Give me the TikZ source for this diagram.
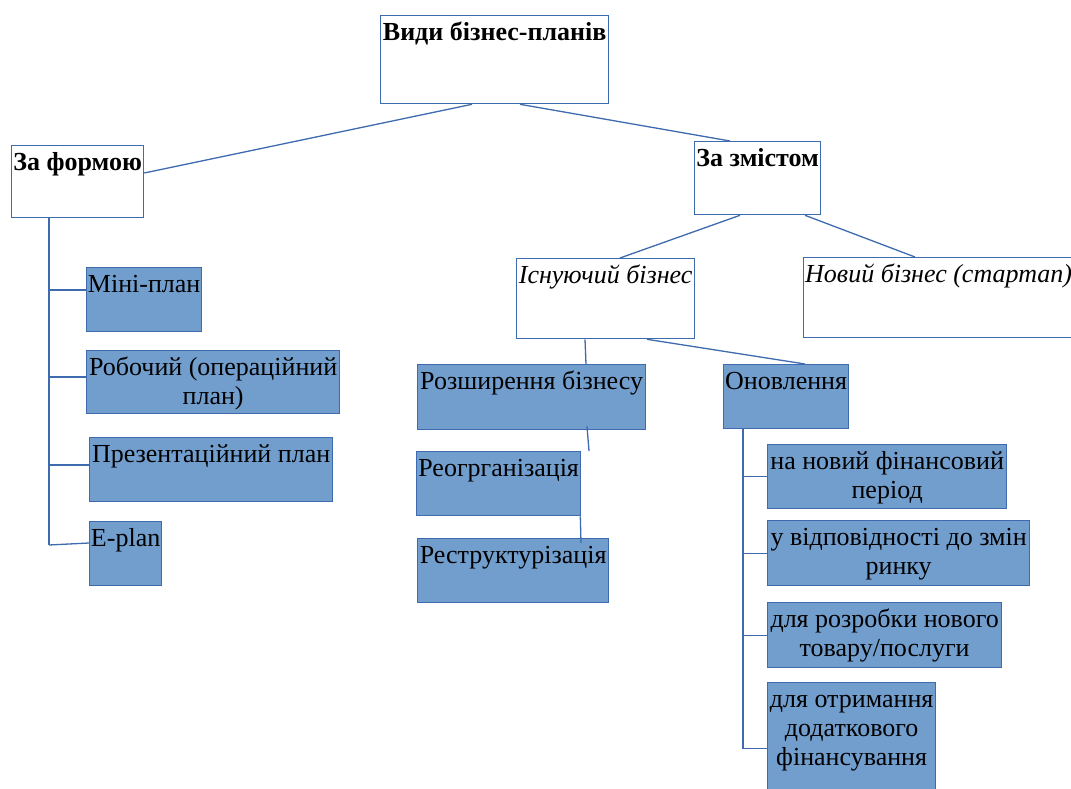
\documentclass[tikz,border=0pt]{standalone}
\usepackage{fontspec}
\setmainfont{Liberation Serif}
\usetikzlibrary{calc}
\definecolor{fillc}{RGB}{114,158,206}
\definecolor{bordc}{RGB}{62,106,174}
\newcommand\bxfont{\fontsize{26}{29}\selectfont}
\tikzset{
  box/.style={draw=bordc,line width=1.3pt,anchor=north west,inner sep=0pt,fill=white},
  fbox/.style={box,fill=fillc},
  txt/.style={anchor=north,inner sep=0pt,font=\bxfont,align=center},
  conn/.style={draw=bordc,line width=1.3pt}
}
\begin{document}
\begin{tikzpicture}[x=1pt,y=-1pt]
\useasboundingbox (0,0) rectangle (1071,789);
\clip (0,0) rectangle (1071,789);
% boxes
\node[box,minimum width=228,minimum height=88] (vydy) at (380,15) {};
\node[box,minimum width=132,minimum height=72] (forma) at (11,145) {};
\node[box,minimum width=126,minimum height=73] (zmist) at (694,141) {};
\node[box,minimum width=178,minimum height=80] (isnu) at (516,258) {};
\node[box,minimum width=275,minimum height=80] (novyi) at (803,257) {};
\node[fbox,minimum width=115,minimum height=64] (mini) at (86,267) {};
\node[fbox,minimum width=253,minimum height=63] (robo) at (86,350) {};
\node[fbox,minimum width=243,minimum height=64] (prez) at (89,437) {};
\node[fbox,minimum width=72,minimum height=64] (eplan) at (89,521) {};
\node[fbox,minimum width=228,minimum height=65] (rozsh) at (417,364) {};
\node[fbox,minimum width=164,minimum height=64] (reorg) at (416,451) {};
\node[fbox,minimum width=191,minimum height=64] (restr) at (417,538) {};
\node[fbox,minimum width=125,minimum height=64] (onovl) at (723,364) {};
\node[fbox,minimum width=239,minimum height=64] (period) at (767,444) {};
\node[fbox,minimum width=262,minimum height=65] (rynok) at (767,520) {};
\node[fbox,minimum width=234,minimum height=65] (tovar) at (767,602) {};
\node[fbox,minimum width=168,minimum height=132] (finans) at (767,682) {};
% texts
\node[txt] (vydyt) at ($(vydy.north)+(0,5)$) {\strut\textbf{Види бізнес-планів}};
\node[txt] (format) at ($(forma.north)+(0,5)$) {\strut\textbf{За формою}};
\node[txt] (zmistt) at ($(zmist.north)+(0,5)$) {\strut\textbf{За змістом}};
\node[txt] (isnut) at ($(isnu.north)+(0,5)$) {\strut\textit{Існуючий бізнес}};
\node[txt,anchor=north west] (novyit) at ($(novyi.north west)+(2,5)$) {\strut\textit{Новий бізнес (стартап)}};
\node[txt] (minit) at ($(mini.north)+(0,5)$) {\strut Міні-план};
\node[txt] (robot) at ($(robo.north)+(0,5)$) {\strut Робочий (операційний\\план)};
\node[txt] (prezt) at ($(prez.north)+(0,5)$) {\strut Презентаційний план};
\node[txt] (eplant) at ($(eplan.north)+(0,5)$) {\strut E-plan};
\node[txt] (rozsht) at ($(rozsh.north)+(0,5)$) {\strut Розширення бізнесу};
\node[txt] (reorgt) at ($(reorg.north)+(0,5)$) {\strut Реогрганізація};
\node[txt] (restrt) at ($(restr.north)+(0,5)$) {\strut Реструктурізація};
\node[txt] (onovlt) at ($(onovl.north)+(0,5)$) {\strut Оновлення};
\node[txt] (periodt) at ($(period.north)+(0,5)$) {\strut на новий фінансовий\\період};
\node[txt] (rynokt) at ($(rynok.north)+(0,5)$) {\strut у відповідності до змін\\ринку};
\node[txt] (tovart) at ($(tovar.north)+(0,5)$) {\strut для розробки нового\\товару/послуги};
\node[txt] (finanst) at ($(finans.north)+(0,5)$) {\strut для отримання\\додаткового\\фінансування};
% connectors
\draw[conn] ($(vydy.south west)+(92,0)$) -- ($(forma.north east)+(0,28)$);
\draw[conn] ($(vydy.south west)+(140,0)$) -- ($(zmist.north west)+(36,0)$);
\draw[conn] ($(zmist.south west)+(46,0)$) -- ($(isnu.north west)+(104,0)$);
\draw[conn] ($(zmist.south west)+(111,0)$) -- ($(novyi.north west)+(112,0)$);
\coordinate (fsp) at ($(forma.south west)+(38,0)$);
\draw[conn] (fsp) -- (fsp |- 0,545);
\draw[conn] (fsp |- 0,290) -- (mini.west |- 0,290);
\draw[conn] (fsp |- 0,377) -- (robo.west |- 0,377);
\draw[conn] (fsp |- 0,465) -- (prez.west |- 0,465);
\draw[conn] (fsp |- 0,545) -- (eplan.west |- 0,543);
\draw[conn] ($(isnu.south west)+(69,0)$) -- ($(rozsh.north west)+(169,0)$);
\draw[conn] ($(isnu.south west)+(131,0)$) -- ($(onovl.north west)+(82,0)$);
\draw[conn] ($(rozsh.south west)+(170,-4)$) -- ($(reorg.north west)+(173,0)$);
\draw[conn] ($(reorg.south east)+(-1,0)$) -- ($(restr.north west)+(164,5)$);
\coordinate (osp) at ($(onovl.south west)+(20,0)$);
\draw[conn] (osp) -- (osp |- finans.west);
\foreach \n in {period,rynok,tovar,finans}
  \draw[conn] (osp |- \n.west) -- (\n.west);
\end{tikzpicture}
\end{document}
